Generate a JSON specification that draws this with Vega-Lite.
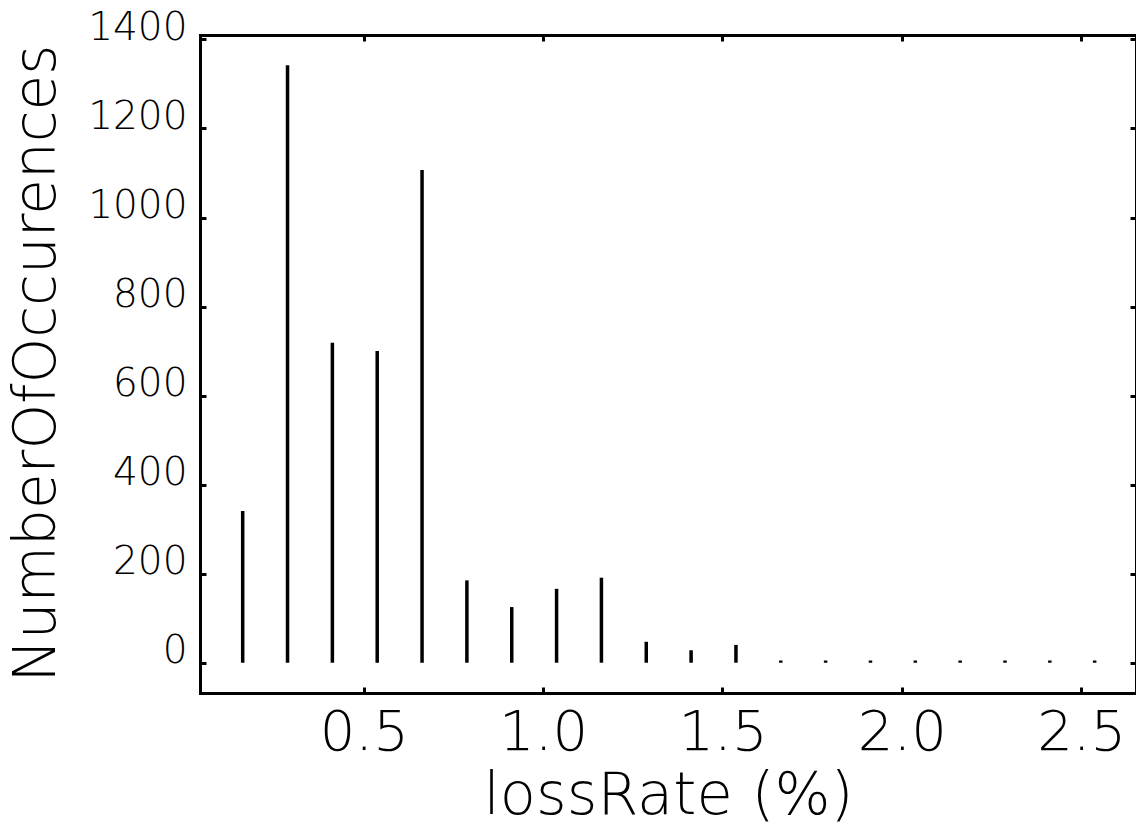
{
  "$schema": "https://vega.github.io/schema/vega-lite/v6.json",
  "width": 936,
  "height": 658,
  "autosize": {"type": "none"},
  "padding": {"left": 200, "top": 35, "right": 0, "bottom": 134},
  "background": "white",
  "data": {
    "values": [
      {"lossRate": 0.1625, "count": 341},
      {"lossRate": 0.2875, "count": 1342},
      {"lossRate": 0.4125, "count": 719},
      {"lossRate": 0.5375, "count": 700},
      {"lossRate": 0.6625, "count": 1107},
      {"lossRate": 0.7875, "count": 185},
      {"lossRate": 0.9125, "count": 125},
      {"lossRate": 1.0375, "count": 166},
      {"lossRate": 1.1625, "count": 191},
      {"lossRate": 1.2875, "count": 47},
      {"lossRate": 1.4125, "count": 28},
      {"lossRate": 1.5375, "count": 40},
      {"lossRate": 1.6625, "count": 5},
      {"lossRate": 1.7875, "count": 5},
      {"lossRate": 1.9125, "count": 5},
      {"lossRate": 2.0375, "count": 5},
      {"lossRate": 2.1625, "count": 5},
      {"lossRate": 2.2875, "count": 5},
      {"lossRate": 2.4125, "count": 5},
      {"lossRate": 2.5375, "count": 5}
    ]
  },
  "layer": [
    {
      "mark": {"type": "rule", "strokeWidth": 3.5, "color": "black"},
      "encoding": {
        "x": {
          "field": "lossRate", "type": "quantitative",
          "scale": {"domain": [0.0435, 2.6527], "nice": false, "zero": false},
          "axis": {
            "orient": "bottom",
            "values": [0.5, 1.0, 1.5, 2.0, 2.5],
            "format": ".1f",
            "labelFontSize": 56,
            "labelBaseline": "alphabetic",
            "labelPadding": 62,
            "title": "lossRate (%)",
            "titleX": 468,
            "titleY": 120,
            "titleBaseline": "alphabetic",
            "titleAlign": "center",
            "titleFontSize": 59
          }
        },
        "y": {
          "field": "count", "type": "quantitative",
          "scale": {"domain": [-68, 1410], "nice": false, "zero": false},
          "axis": {
            "orient": "left",
            "values": [0, 200, 400, 600, 800, 1000, 1200, 1400],
            "format": "d",
            "labelFontSize": 39,
            "labelBaseline": "alphabetic",
            "labelPadding": 19,
            "title": "NumberOfOccurences",
            "titleAngle": -90,
            "titleX": -146,
            "titleY": 328,
            "titleBaseline": "alphabetic",
            "titleAlign": "center",
            "titleFontSize": 58
          }
        },
        "y2": {"datum": 0}
      }
    },
    {
      "mark": {"type": "rule", "opacity": 0},
      "encoding": {
        "x": {
          "field": "lossRate", "type": "quantitative",
          "axis": {"orient": "top", "values": [0.5, 1.0, 1.5, 2.0, 2.5], "labels": false, "title": null}
        },
        "y": {
          "field": "count", "type": "quantitative",
          "axis": {"orient": "right", "values": [0, 200, 400, 600, 800, 1000, 1200, 1400], "labels": false, "title": null}
        },
        "y2": {"datum": 0}
      }
    }
  ],
  "resolve": {"axis": {"x": "independent", "y": "independent"}},
  "config": {
    "view": {"stroke": null},
    "axis": {
      "grid": false,
      "domain": true,
      "domainColor": "black",
      "domainWidth": 3,
      "domainCap": "square",
      "ticks": true,
      "tickColor": "black",
      "tickWidth": 3,
      "tickSize": -6,
      "labelColor": "black",
      "labelFont": "DejaVu Sans",
      "labelFontWeight": 200,
      "titleColor": "black",
      "titleFont": "DejaVu Sans",
      "titleFontWeight": 200,
      "labelFlush": false,
      "labelOverlap": false
    }
  }
}
